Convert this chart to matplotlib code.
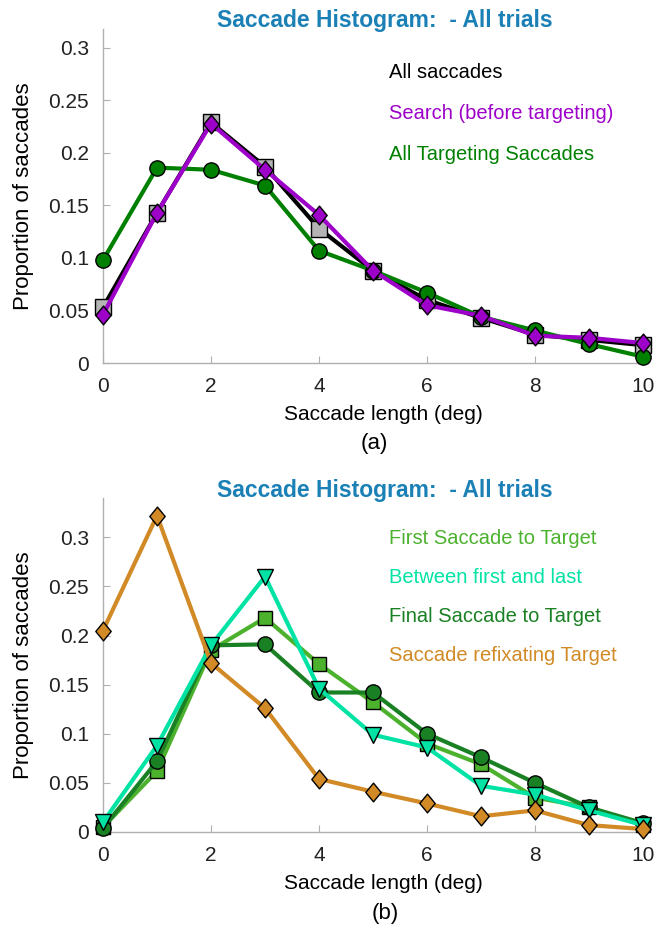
import numpy as np
import matplotlib
matplotlib.use("Agg")
import matplotlib.pyplot as plt
from matplotlib.path import Path

plt.rcParams['font.family'] = ['Liberation Sans', 'DejaVu Sans']

# データ
x = np.arange(0, 11)

# (a)
all_sacc = [0.053, 0.143, 0.229, 0.187, 0.128, 0.088, 0.060, 0.043, 0.027, 0.022, 0.017]
search = [0.046, 0.143, 0.228, 0.184, 0.141, 0.088, 0.055, 0.045, 0.026, 0.024, 0.019]
targeting = [0.098, 0.186, 0.184, 0.169, 0.107, 0.088, 0.067, 0.044, 0.031, 0.018, 0.006]

# (b)
first_sacc = [0.005, 0.062, 0.185, 0.218, 0.171, 0.132, 0.090, 0.069, 0.035, 0.025, 0.007]
between = [0.010, 0.088, 0.190, 0.260, 0.146, 0.099, 0.086, 0.047, 0.038, 0.022, 0.007]
final_sacc = [0.004, 0.072, 0.190, 0.191, 0.142, 0.142, 0.100, 0.076, 0.050, 0.025, 0.009]
refix = [0.205, 0.322, 0.172, 0.126, 0.054, 0.041, 0.029, 0.016, 0.022, 0.007, 0.003]

labels_a = ['All saccades', 'Search (before targeting)', 'All Targeting Saccades']
labels_b = ['First Saccade to Target', 'Between first and last',
            'Final Saccade to Target', 'Saccade refixating Target']

title = 'Saccade Histogram:  - All trials'
title_color = '#1a80b6'

# 縦長のダイヤ形マーカー
diamond = Path([(0, 1), (0.82, 0), (0, -1), (-0.82, 0), (0, 1)],
               [Path.MOVETO, Path.LINETO, Path.LINETO, Path.LINETO, Path.CLOSEPOLY])

fig = plt.figure(figsize=(6.54, 9.27), dpi=100)
ax1 = fig.add_axes([0.1575, 0.6084, 0.8257, 0.3603])
ax2 = fig.add_axes([0.1575, 0.1025, 0.8257, 0.3603])


def style_axes(ax, ymax, yticks, yticklabels):
    ax.set_xlim(0, 10)
    ax.set_ylim(0, ymax)
    ax.set_xticks([0, 2, 4, 6, 8, 10])
    ax.set_yticks(yticks)
    ax.set_yticklabels(yticklabels)
    for s in ['top', 'right']:
        ax.spines[s].set_visible(False)
    for s in ['left', 'bottom']:
        ax.spines[s].set_color('#b0b0b0')
        ax.spines[s].set_linewidth(1.0)
    ax.tick_params(direction='in', length=5, color='#b0b0b0',
                   labelsize=15, labelcolor='#222222', pad=10)
    ax.set_xlabel('Saccade length (deg)', fontsize=15)
    ax.set_ylabel('Proportion of saccades', fontsize=16)
    ax.xaxis.set_label_coords(0.52, -0.125)
    ax.yaxis.set_label_coords(-0.128, 0.5)


yt = [0, 0.05, 0.1, 0.15, 0.2, 0.25, 0.3]
ytl = ['0', '0.05', '0.1', '0.15', '0.2', '0.25', '0.3']

# (a)
ax1.plot(x, all_sacc, color='black', marker='s', mfc='#b4b4b4', ms=12, lw=3,
         mec='black', mew=1.0, clip_on=False, zorder=3)
ax1.plot(x, targeting, color='#008000', marker='o', mfc='#008000', ms=11, lw=3,
         mec='black', mew=1.0, clip_on=False, zorder=4)
ax1.plot(x, search, color='#9d00c8', marker=diamond, mfc='#9d00c8', ms=13.5, lw=3,
         mec='black', mew=1.0, clip_on=False, zorder=5)
style_axes(ax1, 0.318, yt, ytl)

cols_a = ['black', '#9d00c8', '#008000']
for i, (lab, c) in enumerate(zip(labels_a, cols_a)):
    fig.text(389 / 654, 1 - (72 + 41.5 * i) / 927, lab,
             color=c, fontsize=14.5, va='center', ha='left')

# (b)
ax2.plot(x, first_sacc, color='#4cb22e', marker='s', mfc='#4cb22e', ms=10, lw=3,
         mec='black', mew=1.0, clip_on=False, zorder=3)
ax2.plot(x, final_sacc, color='#1a8024', marker='o', mfc='#1a8024', ms=11, lw=3,
         mec='black', mew=1.0, clip_on=False, zorder=4)
ax2.plot(x, between, color='#00e3a4', marker='v', mfc='#00e3a4', ms=12, lw=3,
         mec='black', mew=1.0, clip_on=False, zorder=5)
ax2.plot(x, refix, color='#d28a26', marker=diamond, mfc='#d28a26', ms=13.5, lw=3,
         mec='black', mew=1.0, clip_on=False, zorder=6)
style_axes(ax2, 0.34, yt, ytl)

cols_b = ['#4cb22e', '#00e3a4', '#1a8024', '#d28a26']
for i, (lab, c) in enumerate(zip(labels_b, cols_b)):
    fig.text(389 / 654, 1 - (538 + 39.3 * i) / 927, lab,
             color=c, fontsize=14.5, va='center', ha='left')

# タイトルとキャプション
fig.text(385 / 654, 1 - 21 / 927, title, color=title_color, fontsize=16.5,
         fontweight='bold', ha='center', va='center')
fig.text(385 / 654, 1 - 490 / 927, title, color=title_color, fontsize=16.5,
         fontweight='bold', ha='center', va='center')
fig.text(374 / 654, 1 - 443 / 927, '(a)', fontsize=16, ha='center', va='center')
fig.text(385 / 654, 1 - 913 / 927, '(b)', fontsize=16, ha='center', va='center')

plt.savefig('out.png', dpi=100)
